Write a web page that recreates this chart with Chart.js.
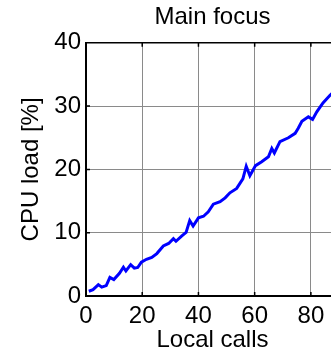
<!DOCTYPE html>
<html>
<head>
<meta charset="utf-8">
<script src="https://cdn.jsdelivr.net/npm/chart.js@4"></script>
<style>
    html, body { margin: 0; padding: 0; background: #fff; overflow: hidden; }
    #wrap { width: 345px; height: 357px; }
</style>
</head>
<body>
<div id="wrap"><canvas id="cpuChart" width="345" height="357"></canvas></div>
<script>
// values
const localCalls = [1, 2.5, 4.4, 5.6, 7.2, 8.5, 9.9, 11.9, 13.3, 14.2, 15.9, 17.2, 18.4, 19.7, 21.5, 23.4, 25.2, 27.5, 29.4, 31.1,
    32.0, 34.1, 35.6, 36.9, 38.1, 40.0, 41.8, 43.5, 45.3, 47.7, 49.5, 51.2, 53.6, 55.8, 57.0, 58.3, 60.3, 62.5, 64.9, 66.1,
    67.0, 69.0, 72.0, 74.4, 75.5, 76.8, 79.1, 80.6, 82.1, 84.3, 86.8, 88.5];
const cpuLoad = [0.75, 1.0, 1.8, 1.4, 1.65, 2.95, 2.6, 3.6, 4.55, 3.95, 4.95, 4.4, 4.5, 5.35, 5.8, 6.1, 6.7, 7.9, 8.3, 9.05,
    8.65, 9.5, 10.05, 11.9, 11.05, 12.35, 12.6, 13.3, 14.5, 14.9, 15.5, 16.3, 17.0, 18.5, 20.5, 19.0, 20.6, 21.2, 22.0, 23.3,
    22.6, 24.4, 25.0, 25.7, 26.5, 27.6, 28.3, 27.9, 29.1, 30.5, 31.7, 32.4];
const xTicks = [0, 20, 40, 60, 80];
const yTicks = [0, 10, 20, 30, 40];

const FONT = "'Liberation Sans', Arial, sans-serif";

// black frame plus small inward tick marks, matlab style
const frame = {
    id: "frame",
    afterDraw(chart) {
        const { ctx, chartArea: a, scales } = chart;
        ctx.save();
        ctx.strokeStyle = "#000";
        ctx.lineWidth = 1.5;
        ctx.beginPath();
        ctx.moveTo(a.left, a.top);
        ctx.lineTo(a.right, a.top);
        xTicks.forEach(v => {
            const px = scales.x.getPixelForValue(v);
            ctx.moveTo(px, a.top);
            ctx.lineTo(px, a.top + 4);
            ctx.moveTo(px, a.bottom);
            ctx.lineTo(px, a.bottom - 4);
        });
        yTicks.forEach(v => {
            const py = scales.y.getPixelForValue(v);
            ctx.moveTo(a.left, py);
            ctx.lineTo(a.left + 4, py);
        });
        ctx.stroke();
        ctx.restore();
    }
};

new Chart(document.getElementById("cpuChart"), {
    type: "line",
    data: {
        datasets: [{
            data: localCalls.map((x, i) => ({ x: x, y: cpuLoad[i] })),
            borderColor: "#0000ff",
            borderWidth: 3,
            pointRadius: 0,
            tension: 0,
            fill: false,
        }],
    },
    options: {
        responsive: false,
        animation: false,
        devicePixelRatio: 1,
        layout: { padding: { top: 0, left: 0, bottom: 0, right: 6 } },
        plugins: {
            legend: { display: false },
            tooltip: { enabled: false },
            title: {
                display: true,
                fullSize: false,
                text: "Main focus",
                color: "#000",
                font: { family: FONT, size: 24, weight: "normal" },
                padding: { top: 3, bottom: 11 },
            },
        },
        scales: {
            x: {
                type: "linear",
                min: 0,
                max: 90,
                afterFit: s => { s.height = 61; },
                afterBuildTicks: s => { s.ticks = xTicks.map(v => ({ value: v })); },
                ticks: { color: "#000", padding: 6, font: { family: FONT, size: 24 } },
                grid: { color: "#8a8a8a", lineWidth: 1, drawTicks: false },
                border: { color: "#000", width: 2 },
                title: {
                    display: true,
                    text: "Local calls",
                    color: "#000",
                    font: { family: FONT, size: 24 },
                    padding: { top: 0, bottom: 2 },
                },
            },
            y: {
                min: 0,
                max: 40,
                afterFit: s => { s.width = 86; },
                afterBuildTicks: s => { s.ticks = yTicks.map(v => ({ value: v })); },
                ticks: { color: "#000", padding: 5, font: { family: FONT, size: 24 } },
                grid: { color: "#8a8a8a", lineWidth: 1, drawTicks: false },
                border: { color: "#000", width: 2 },
                title: {
                    display: true,
                    text: "CPU load [%]",
                    color: "#000",
                    font: { family: FONT, size: 24 },
                    padding: { top: 17, bottom: 0 },
                },
            },
        },
    },
    plugins: [frame],
});
</script>
</body>
</html>
